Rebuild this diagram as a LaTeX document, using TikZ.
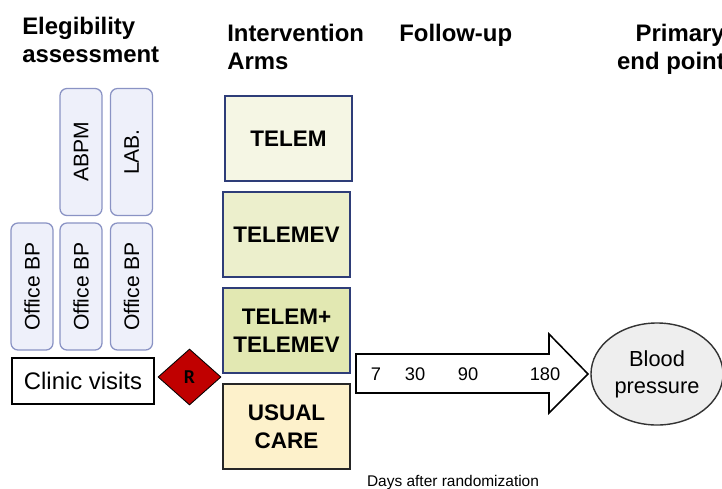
\documentclass[tikz,border=0pt]{standalone}
\usepackage{fontspec}
\setmainfont{Liberation Sans}
\newfontfamily\rfont{Carlito}
\usepackage{tikz}
\usetikzlibrary{shapes.geometric}

\definecolor{lavfill}{HTML}{EEF0FA}
\definecolor{lavline}{HTML}{8A93C4}
\definecolor{armline}{HTML}{2E3D78}
\definecolor{telemfill}{HTML}{F5F6E4}
\definecolor{telemevfill}{HTML}{ECEFCC}
\definecolor{bothfill}{HTML}{E2E8B2}
\definecolor{usualfill}{HTML}{FDF1CB}
\definecolor{randred}{HTML}{C00000}
\definecolor{bpfill}{HTML}{EEEEEE}

\begin{document}
\begin{tikzpicture}[x=0.025cm, y=-0.025cm,
  head/.style={inner sep=0, font=\fontsize{17}{20}\selectfont\bfseries},
  visit/.style={draw=lavline, fill=lavfill, rounded corners=5pt, line width=0.9pt,
    rotate=90, minimum width=3.175cm, minimum height=1.05cm, inner sep=0,
    font=\fontsize{15}{18}\selectfont},
  arm/.style={draw=armline, line width=1.2pt, minimum width=3.175cm,
    minimum height=2.125cm, inner sep=0, align=center,
    font=\fontsize{16}{19.6}\selectfont\bfseries}]

\useasboundingbox (0,0) rectangle (722,488);

% column titles
\path
(22,17)   node[head, anchor=north west, align=left]  (elig)   {Elegibility\\assessment}
(227,24)  node[head, anchor=north west, align=left]  (interv) {Intervention\\Arms}
(399,24)  node[head, anchor=north west]              (follow) {Follow-up}
(725,24)  node[head, anchor=north east, align=right] (primary){Primary\\end point};

% eligibility visits
\path
(81,152)    node[visit] (abpm)    {ABPM}
(131.5,152) node[visit] (lab)     {LAB.}
(32,286.5)  node[visit] (office1) {Office BP}
(81,286.5)  node[visit] (office2) {Office BP}
(131.5,286.5) node[visit] (office3) {Office BP};

\path
(83,381) node[draw, line width=1pt, minimum width=3.55cm, minimum height=1.15cm,
  inner sep=0, font=\fontsize{17}{20}\selectfont] (clinic) {Clinic visits}
(189.5,377) node[diamond, draw, fill=randred, line width=0.6pt, aspect=1.125,
  minimum width=1.575cm, minimum height=1.4cm, inner sep=0,
  font=\rfont\fontsize{14}{16}\selectfont\bfseries] (rand) {R};

% arms
\path
(288.5,138.5) node[arm, fill=telemfill]   (telem)     {TELEM}
(286.5,234.5) node[arm, fill=telemevfill] (telemev)   {TELEMEV}
(286.5,330.5) node[arm, fill=bothfill]    (telemboth) {TELEM+\\TELEMEV}
(286.5,426.5) node[arm, fill=usualfill, draw=black!85] (usual) {USUAL\\CARE};

% follow-up arrow
\draw[line width=1.1pt, fill=white]
 (356,354) -- (549,354) -- (549,334) -- (588,374) -- (549,413) -- (549,393) -- (356,393) -- cycle;
\path[font=\fontsize{13}{15}\selectfont]
(376,374) node (d7)   {7}
(415,374) node (d30)  {30}
(468,374) node (d90)  {90}
(545,374) node (d180) {180};

\path
(657,374) node[ellipse, draw=black!80, fill=bpfill, line width=1pt,
  minimum width=3.3cm, minimum height=2.55cm, inner sep=0, align=center,
  font=\fontsize{15.5}{19}\selectfont] (bp) {Blood\\pressure}
(453,482) node[font=\fontsize{11}{13}\selectfont] (days) {Days after randomization};

\end{tikzpicture}
\end{document}
